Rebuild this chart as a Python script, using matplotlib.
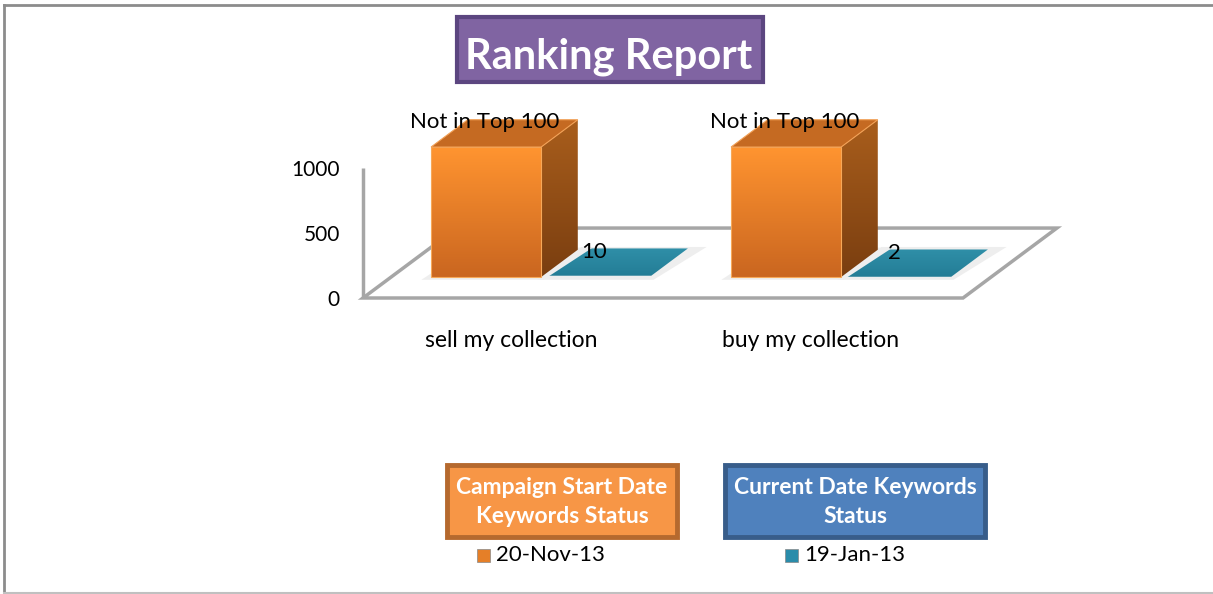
import matplotlib.pyplot as plt
import numpy as np
from matplotlib.patches import Polygon, Rectangle
from matplotlib.lines import Line2D
from matplotlib.colors import LinearSegmentedColormap

# chart data
keywords = ['sell my collection', 'buy my collection']
start_values = [1000, 1000]          # "Not in Top 100" is drawn at the chart max
start_labels = ['Not in Top 100', 'Not in Top 100']
current_values = [10, 2]
current_labels = ['10', '2']
series_names = ['20-Nov-13', '19-Jan-13']
box_titles = ['Campaign Start Date\nKeywords Status', 'Current Date Keywords\nStatus']
y_ticks = [0, 500, 1000]

plt.rcParams['font.family'] = ['Lato', 'DejaVu Sans']

W, H = 1213, 594
fig = plt.figure(figsize=(W / 100, H / 100), dpi=100)
ax = fig.add_axes([0, 0, 1, 1])

# fake 3d: depth vector of the floor in data units
DX, DY = 0.313, 538.0
bar_w = 0.367
d_front, d_back = 0.3, 0.69


def proj(x, y, d):
    return (x + d * DX, y + d * DY)


def fx(px):
    return px / W


def fy(py):
    return 1 - py / H


orange_front = LinearSegmentedColormap.from_list('of', ['#ca6620', '#ff9430'])
orange_side = LinearSegmentedColormap.from_list('os', ['#7a3e10', '#a95e1c'])
teal_grad = LinearSegmentedColormap.from_list('tg', ['#247d96', '#2f8fa8'])


def grad_poly(pts, cmap, z, edge='none'):
    poly = Polygon(pts, closed=True, facecolor='none', edgecolor=edge, lw=0.8, zorder=z + 0.1)
    ax.add_patch(poly)
    xs = [p[0] for p in pts]
    ys = [p[1] for p in pts]
    g = np.linspace(0, 1, 100).reshape(-1, 1)
    im = ax.imshow(g, extent=[min(xs), max(xs), min(ys), max(ys)], origin='lower',
                   aspect='auto', cmap=cmap, zorder=z, interpolation='bilinear')
    im.set_clip_path(poly)


def box3d(x0, x1, h, front_cmap, side_cmap, top_color, z):
    front = [proj(x0, 0, d_front), proj(x1, 0, d_front), proj(x1, h, d_front), proj(x0, h, d_front)]
    side = [proj(x1, 0, d_front), proj(x1, 0, d_back), proj(x1, h, d_back), proj(x1, h, d_front)]
    top = [proj(x0, h, d_front), proj(x1, h, d_front), proj(x1, h, d_back), proj(x0, h, d_back)]
    # soft shadow on the floor
    sh = [proj(x0 - 0.02, 0, d_front - 0.04), proj(x1 + 0.02, 0, d_front - 0.04),
          proj(x1 + 0.04, 0, d_back + 0.03), proj(x0, 0, d_back + 0.03)]
    ax.add_patch(Polygon(sh, closed=True, facecolor='#eeeeee', edgecolor='none', zorder=z - 0.5))
    grad_poly(front, front_cmap, z, edge='#f7a858')
    grad_poly(side, side_cmap, z)
    ax.add_patch(Polygon(top, closed=True, facecolor=top_color, edgecolor='#f2a055',
                         lw=0.8, zorder=z + 0.2))


# floor
floor = [proj(-0.5, 0, 0), proj(1.5, 0, 0), proj(1.5, 0, 1), proj(-0.5, 0, 1)]
ax.add_patch(Polygon(floor, closed=True, facecolor='white', edgecolor='#a6a6a6', lw=2.5, zorder=1))
# left wall axis line
ax.plot([-0.5, -0.5], [0, 1000], color='#a6a6a6', lw=2.5, zorder=1.5, solid_capstyle='butt')

for i in range(len(keywords)):
    # current date series (flat teal)
    x0 = i
    x1 = i + bar_w
    h = current_values[i]
    top = [proj(x0, h, d_front), proj(x1, h, d_front), proj(x1, h, d_back), proj(x0, h, d_back)]
    sh = [proj(x0, 0, d_front - 0.04), proj(x1 + 0.02, 0, d_front - 0.04),
          proj(x1 + 0.05, 0, d_back + 0.04), proj(x0, 0, d_back + 0.04)]
    ax.add_patch(Polygon(sh, closed=True, facecolor='#eeeeee', edgecolor='none', zorder=2))
    grad_poly(top, teal_grad, 3)

    # campaign start series (orange box)
    box3d(i - bar_w, i, start_values[i], orange_front, orange_side, '#c56a22', 4)

    # data labels
    xa, ya = proj(i - bar_w / 2, start_values[i], d_front)
    ax.annotate(start_labels[i], (xa, ya), xytext=(-1, 25), textcoords='offset pixels',
                ha='center', va='center', fontsize=16, color='black', zorder=10)
    xb, yb = proj(i + bar_w / 2, current_values[i], d_front)
    ax.annotate(current_labels[i], (xb, yb), xytext=(-2, 24), textcoords='offset pixels',
                ha='center', va='center', fontsize=16, color='black', zorder=10)

    # category labels
    ax.annotate(keywords[i], (i, 0), xytext=(-2, -42), textcoords='offset pixels',
                ha='center', va='center', fontsize=16.5, color='black')

# value axis labels
for v in y_ticks:
    ax.annotate(str(v), (-0.5, v), xytext=(-23, -2), textcoords='offset pixels',
                ha='right', va='center', fontsize=15, color='black')

ax.set_xlim(-0.5 - 363 / 300, (W - 363) / 300 - 0.5)
ax.set_ylim((298 - H) / 0.13, 298 / 0.13)
ax.axis('off')

# title box
fig.patches.append(Rectangle((fx(457), fy(82)), fx(763) - fx(457), fy(17) - fy(82),
                             transform=fig.transFigure, facecolor='#8064a2',
                             edgecolor='#5c4680', lw=3, zorder=5))
fig.text(fx(609), fy(53), 'Ranking Report', ha='center', va='center_baseline', color='white',
         fontsize=30, fontweight='bold', zorder=6)

# legend title boxes and entries
box_specs = [(447, 677, '#f79646', '#b5692e'), (725, 985, '#4f81bd', '#385d8a')]
marker_colors = ['#e57f28', '#2a8caa']
marker_px = [477, 785]
for k in range(2):
    l, r, fc, ec = box_specs[k]
    fig.patches.append(Rectangle((fx(l), fy(537)), fx(r) - fx(l), fy(465) - fy(537),
                                 transform=fig.transFigure, facecolor=fc, edgecolor=ec,
                                 lw=3.5, zorder=5))
    fig.text(fx((l + r) / 2), fy(502), box_titles[k], ha='center', va='center', color='white',
             fontsize=16.5, fontweight='bold', linespacing=1.42, zorder=6)
    fig.patches.append(Rectangle((fx(marker_px[k]), fy(562)), 13 / W, 13 / H,
                                 transform=fig.transFigure, facecolor=marker_colors[k],
                                 edgecolor='#888888', lw=0.5, zorder=5))
    fig.text(fx(marker_px[k] + 19), fy(555), series_names[k], ha='left', va='center',
             fontsize=16, color='black')

# outer chart border
fig.lines.append(Line2D([fx(4), fx(4)], [fy(5), fy(594)], transform=fig.transFigure,
                        color='#8c8c8c', lw=2))
fig.lines.append(Line2D([fx(4), fx(1213)], [fy(5), fy(5)], transform=fig.transFigure,
                        color='#8c8c8c', lw=2))
fig.lines.append(Line2D([fx(4), fx(1213)], [fy(593), fy(593)], transform=fig.transFigure,
                        color='#c0c0c0', lw=1.5))

fig.savefig('out.png', dpi=100)
